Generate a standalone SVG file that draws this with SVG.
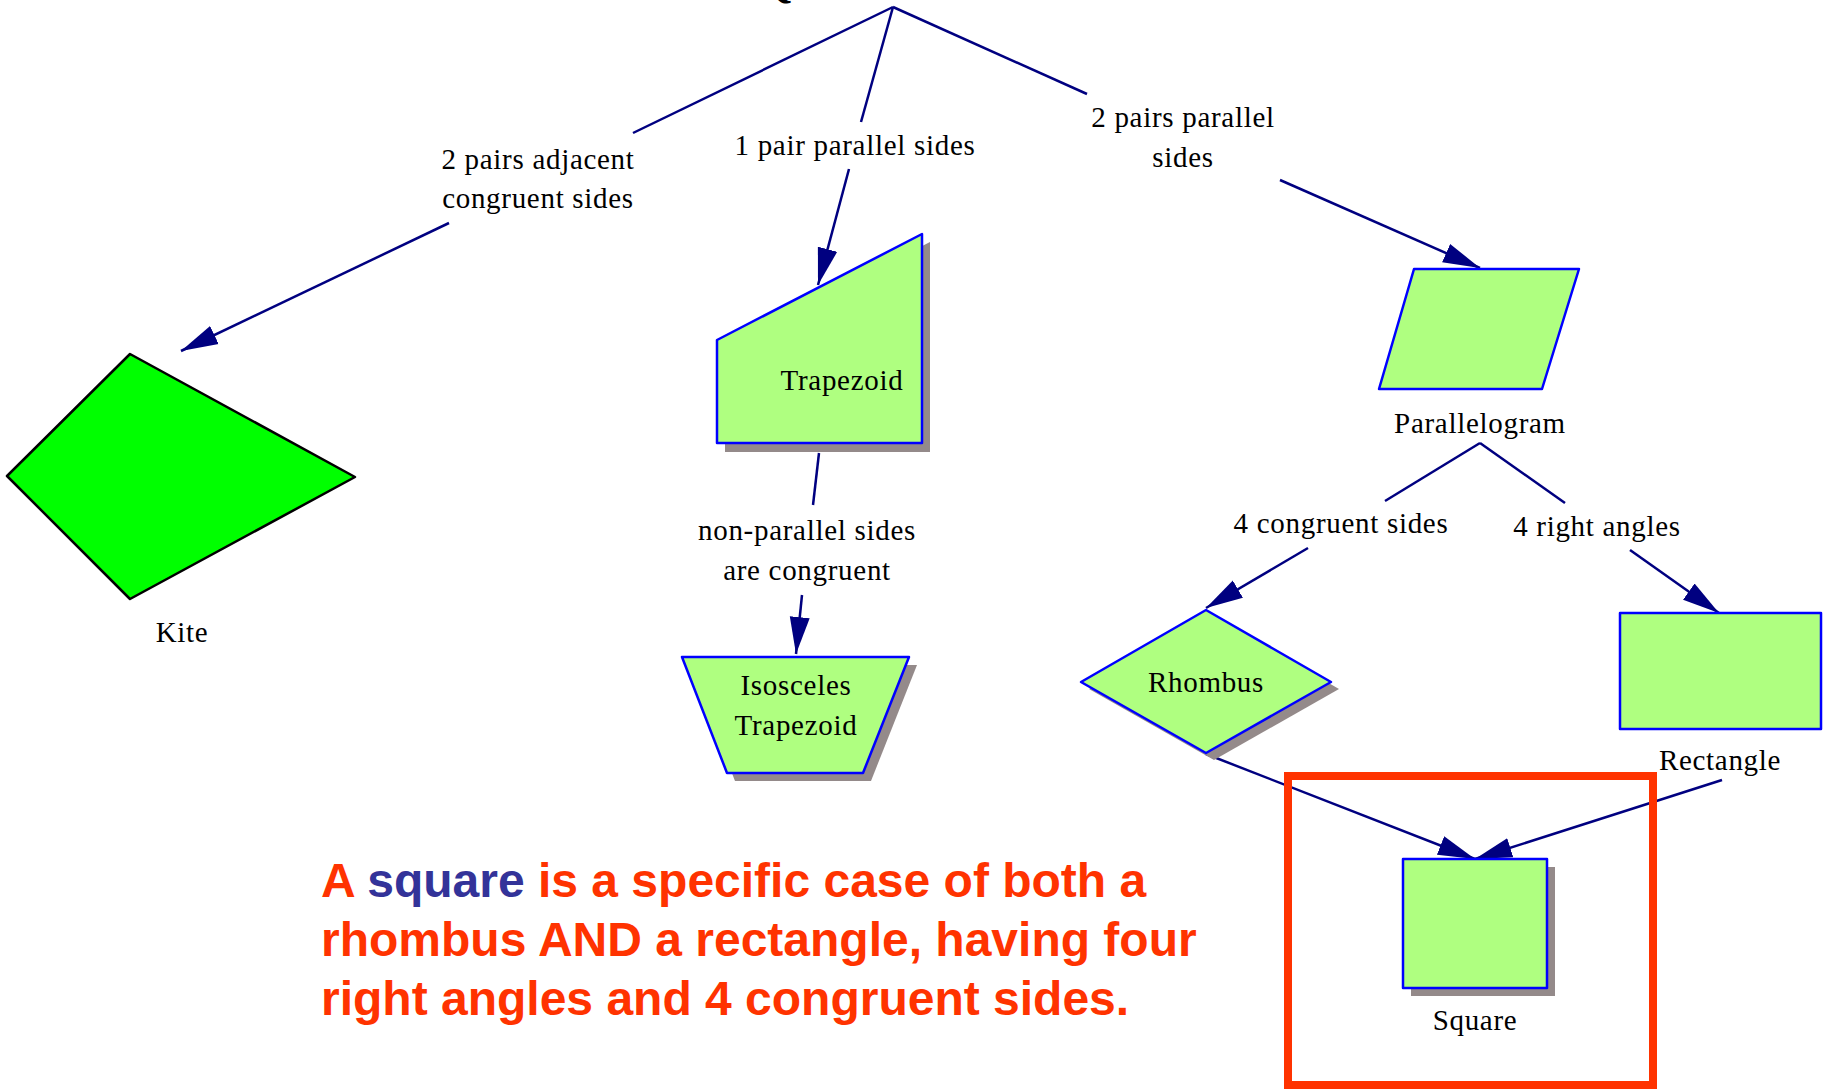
<svg xmlns="http://www.w3.org/2000/svg" width="1827" height="1089" viewBox="0 0 1827 1089">
<defs>
<marker id="arr" markerUnits="userSpaceOnUse" markerWidth="38" markerHeight="22" viewBox="0 0 38 22" refX="37" refY="11" orient="auto">
<path d="M0,1 L37,11 L0,21 z" fill="#000080"/>
</marker>
</defs>
<style>
.edge{stroke:#000080;stroke-width:2.5;fill:none}
.shape{fill:#afff80;stroke:#0000ff;stroke-width:2.5;stroke-linejoin:round}
.shadow{fill:#948a8a}
.lbl{font-family:"Liberation Serif","Times New Roman",serif;font-size:29px;letter-spacing:0.7px;fill:#000;text-anchor:middle}
.note{font-family:"Liberation Sans",Arial,sans-serif;font-size:48px;font-weight:bold;fill:#ff3300}
</style>
<rect width="1827" height="1089" fill="#fff"/>
<text x="776" y="-3" font-family="Liberation Serif,serif" font-size="42" font-weight="bold" text-anchor="middle">Q</text>

<g id="connectors">
<line class="edge" x1="893" y1="7" x2="633" y2="133"/>
<line class="edge" x1="449" y1="223" x2="181" y2="351" marker-end="url(#arr)"/>
<line class="edge" x1="893" y1="7" x2="861" y2="122"/>
<line class="edge" x1="849" y1="169" x2="818" y2="285" marker-end="url(#arr)"/>
<line class="edge" x1="893" y1="7" x2="1087" y2="94"/>
<line class="edge" x1="1280" y1="180" x2="1480" y2="268" marker-end="url(#arr)"/>
<line class="edge" x1="819" y1="453" x2="813" y2="505"/>
<line class="edge" x1="802" y1="595" x2="796" y2="654" marker-end="url(#arr)"/>
<line class="edge" x1="1480" y1="443" x2="1385" y2="501"/>
<line class="edge" x1="1308" y1="548" x2="1206" y2="608" marker-end="url(#arr)"/>
<line class="edge" x1="1480" y1="443" x2="1565" y2="503"/>
<line class="edge" x1="1630" y1="550" x2="1719" y2="613" marker-end="url(#arr)"/>
<line class="edge" x1="1206" y1="754" x2="1475" y2="859" marker-end="url(#arr)"/>
<line class="edge" x1="1722" y1="780" x2="1475" y2="859" marker-end="url(#arr)"/>
<text class="lbl" x="538" y="169">2 pairs adjacent</text>
<text class="lbl" x="538" y="208">congruent sides</text>
<text class="lbl" x="855" y="155">1 pair parallel sides</text>
<text class="lbl" x="1183" y="127">2 pairs parallel</text>
<text class="lbl" x="1183" y="167">sides</text>
<text class="lbl" x="807" y="540">non-parallel sides</text>
<text class="lbl" x="807" y="580">are congruent</text>
<text class="lbl" x="1341" y="533">4 congruent sides</text>
<text class="lbl" x="1597" y="536">4 right angles</text>
</g>

<g id="kite">
<polygon points="130,354 355,477 130,599 7,476" fill="#00ff00" stroke="#000" stroke-width="2.5" stroke-linejoin="round"/>
<text class="lbl" x="182" y="642">Kite</text>
</g>

<g id="trapezoid">
<polygon class="shadow" points="725,348 930,242 930,452 725,452"/>
<polygon class="shape" points="717,340 922,234 922,443 717,443"/>
<text class="lbl" x="842" y="390">Trapezoid</text>
</g>

<g id="isosceles-trapezoid">
<polygon class="shadow" points="690,665 917,665 871,781 735,781"/>
<polygon class="shape" points="682,657 909,657 863,773 727,773"/>
<text class="lbl" x="796" y="695">Isosceles</text>
<text class="lbl" x="796" y="735">Trapezoid</text>
</g>

<g id="parallelogram">
<polygon class="shape" points="1414,269 1579,269 1542,389 1379,389"/>
<text class="lbl" x="1480" y="433">Parallelogram</text>
</g>

<g id="rhombus">
<polygon class="shadow" points="1214,617 1339,689 1214,760 1089,689"/>
<polygon class="shape" points="1206,610 1331,682 1206,753 1081,682"/>
<text class="lbl" x="1206" y="692">Rhombus</text>
</g>

<g id="rectangle">
<rect class="shape" x="1620" y="613" width="201" height="116"/>
<text class="lbl" x="1720" y="770">Rectangle</text>
</g>

<g id="square">
<rect class="shadow" x="1411" y="867" width="144" height="129"/>
<rect class="shape" x="1403" y="859" width="144" height="129"/>
<text class="lbl" x="1475" y="1030">Square</text>
</g>

<g id="highlight">
<rect x="1288" y="776" width="365" height="309" fill="none" stroke="#ff3300" stroke-width="8"/>
</g>

<g id="note">
<text class="note" x="321" y="897">A <tspan fill="#333399">square</tspan> is a specific case of both a</text>
<text class="note" x="321" y="956">rhombus AND a rectangle, having four</text>
<text class="note" x="321" y="1015">right angles and 4 congruent sides.</text>
</g>
</svg>
